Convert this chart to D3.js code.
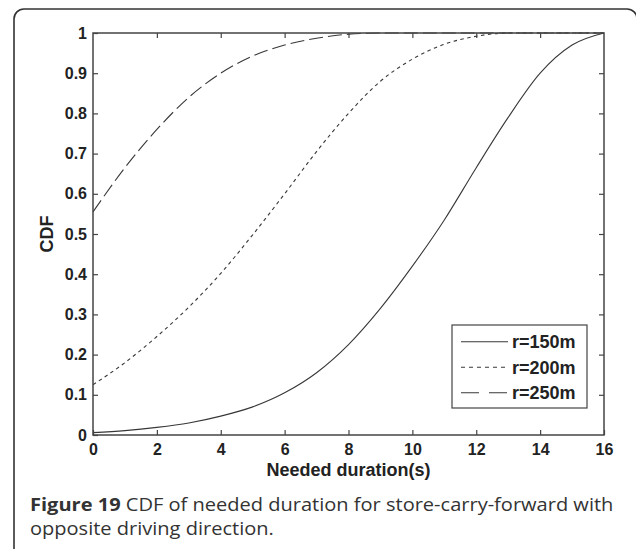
<!DOCTYPE html>
<html>
<head>
<meta charset="utf-8">
<script src="https://cdn.jsdelivr.net/npm/d3@7"></script>
<style>
  html, body { margin: 0; padding: 0; background: #fff; }
  svg { display: block; }
</style>
</head>
<body>
<svg id="chart" width="636" height="549"></svg>
<script>
// Needed duration (s) sampled every second
const durations = [0,1,2,3,4,5,6,7,8,9,10,11,12,13,14,15,16];
// CDF values for each communication range
const cdf150 = [0.006,0.011,0.019,0.03,0.047,0.07,0.105,0.155,0.225,0.315,0.42,0.535,0.665,0.79,0.9,0.97,1.0];
const cdf200 = [0.125,0.18,0.245,0.318,0.402,0.498,0.6,0.705,0.8,0.88,0.935,0.972,0.992,1.0,1.0,1.0,1.0];
const cdf250 = [0.555,0.665,0.76,0.84,0.9,0.943,0.97,0.987,0.997,1.0,1.0,1.0,1.0,1.0,1.0,1.0,1.0];
const seriesNames = ["r=150m","r=200m","r=250m"];
const xTicks = [0,2,4,6,8,10,12,14,16];
const yTicks = [0,0.1,0.2,0.3,0.4,0.5,0.6,0.7,0.8,0.9,1];
const xTitle = "Needed duration(s)";
const yTitle = "CDF";
const captionBold = "Figure 19";
const captionLine1 = " CDF of needed duration for store-carry-forward with";
const captionLine2 = "opposite driving direction.";

const svg = d3.select("#chart");
const ink = "#383838";

// outer panel frame with rounded corners
svg.append("rect")
  .attr("x", 14).attr("y", 9)
  .attr("width", 623).attr("height", 580)
  .attr("rx", 10).attr("ry", 10)
  .attr("fill", "none").attr("stroke", "#333").attr("stroke-width", 1.6);

const plot = { left: 93, top: 33, right: 604, bottom: 435 };
const x = d3.scaleLinear().domain([0, 16]).range([plot.left, plot.right]);
const y = d3.scaleLinear().domain([0, 1]).range([plot.bottom, plot.top]);

const tickFont = "'Liberation Sans', Arial, sans-serif";

// axes: labelled bottom/left, bare ticks on top/right, all ticks pointing inward
const axisStyle = g => {
  g.select(".domain").remove();
  g.selectAll(".tick line").attr("stroke", "#444").attr("stroke-width", 1.2);
  g.selectAll(".tick text").attr("fill", "#222")
    .attr("font-family", tickFont).attr("font-weight", "bold").attr("font-size", 16);
};

svg.append("g").attr("transform", `translate(0,${plot.bottom})`)
  .call(d3.axisBottom(x).tickValues(xTicks).tickFormat(d3.format("d")).tickSizeInner(-5).tickSizeOuter(0).tickPadding(9))
  .call(axisStyle);
svg.append("g").attr("transform", `translate(0,${plot.top})`)
  .call(d3.axisTop(x).tickValues(xTicks.slice(1, -1)).tickFormat("").tickSizeInner(-5).tickSizeOuter(0))
  .call(axisStyle);
svg.append("g").attr("transform", `translate(${plot.left},0)`)
  .call(d3.axisLeft(y).tickValues(yTicks).tickFormat(d => d === 0 || d === 1 ? d3.format("d")(d) : d3.format(".1f")(d)).tickSizeInner(-5).tickSizeOuter(0).tickPadding(6))
  .call(axisStyle);
svg.append("g").attr("transform", `translate(${plot.right},0)`)
  .call(d3.axisRight(y).tickValues(yTicks.slice(1, -1)).tickFormat("").tickSizeInner(-5).tickSizeOuter(0))
  .call(axisStyle);

// curves: solid, dotted and dashed
const styles = [
  { data: cdf150, dash: null, key: null },
  { data: cdf200, dash: "3.5,3.5", key: "4,4" },
  { data: cdf250, dash: "14,5", key: "18,10" }
];
const line = d3.line().x((d, i) => x(durations[i])).y(d => y(d)).curve(d3.curveMonotoneX);
const curves = svg.append("g");
styles.forEach(s => {
  curves.append("path")
    .datum(s.data)
    .attr("d", line)
    .attr("fill", "none")
    .attr("stroke", ink)
    .attr("stroke-width", 1.1)
    .attr("stroke-dasharray", s.dash);
});

// plot box
svg.append("rect")
  .attr("x", plot.left).attr("y", plot.top)
  .attr("width", plot.right - plot.left).attr("height", plot.bottom - plot.top)
  .attr("fill", "none").attr("stroke", "#444").attr("stroke-width", 1.5);

// axis titles
svg.append("text")
  .attr("x", (plot.left + plot.right) / 2).attr("y", 476)
  .attr("text-anchor", "middle")
  .attr("font-family", tickFont).attr("font-weight", "bold").attr("font-size", 18)
  .attr("fill", "#222").text(xTitle);
svg.append("text")
  .attr("transform", `translate(53,${(plot.top + plot.bottom) / 2}) rotate(-90)`)
  .attr("text-anchor", "middle")
  .attr("font-family", tickFont).attr("font-weight", "bold").attr("font-size", 18)
  .attr("fill", "#222").text(yTitle);

// legend
const legend = svg.append("g");
legend.append("rect")
  .attr("x", 452).attr("y", 325).attr("width", 135).attr("height", 83)
  .attr("fill", "#fff").attr("stroke", "#444").attr("stroke-width", 1.2);
styles.forEach((s, i) => {
  const cy = 341.7 + i * 25.5;
  legend.append("line")
    .attr("x1", 461).attr("x2", 508).attr("y1", cy).attr("y2", cy)
    .attr("stroke", ink).attr("stroke-width", 1.1)
    .attr("stroke-dasharray", s.key);
  legend.append("text")
    .attr("x", 512).attr("y", cy + 6.3)
    .attr("font-family", tickFont).attr("font-weight", "bold").attr("font-size", 18)
    .attr("fill", "#222").text(seriesNames[i]);
});

// caption, two lines, slightly condensed to fit the panel width
const capFont = "'Open Sans', 'Noto Sans', sans-serif";
const capSize = 17.5;
const caption = svg.append("g");
const cap1 = caption.append("text").attr("x", 0).attr("y", 511)
  .attr("font-family", capFont).attr("font-size", capSize).attr("fill", "#333");
cap1.append("tspan").attr("font-weight", "bold").text(captionBold);
cap1.append("tspan").text(captionLine1);
caption.append("text").attr("x", 0).attr("y", 535)
  .attr("font-family", capFont).attr("font-size", capSize).attr("fill", "#333")
  .text(captionLine2);
const sx = 584 / cap1.node().getComputedTextLength();
caption.attr("transform", `translate(30,0) scale(${sx},1)`);
</script>
</body>
</html>
